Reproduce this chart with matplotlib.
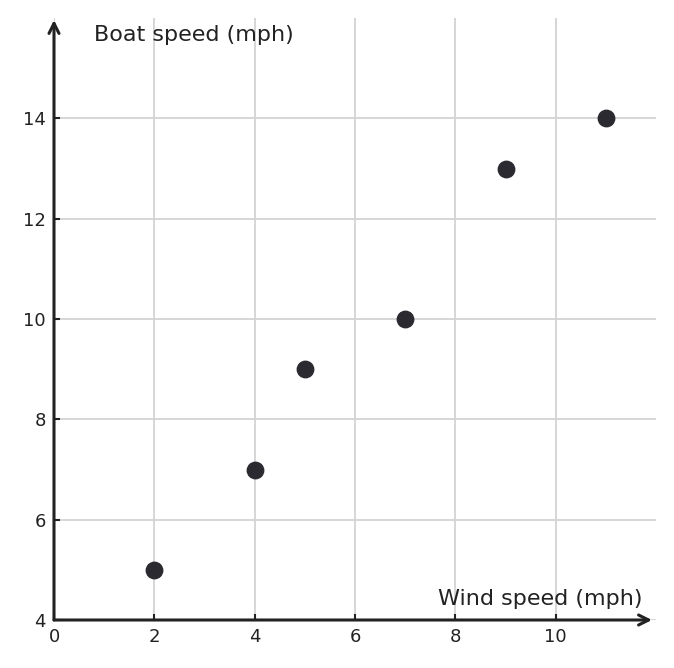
import matplotlib.pyplot as plt

# data
wind_speed = [2, 4, 5, 7, 9, 11]
boat_speed = [5, 7, 9, 10, 13, 14]
x_ticks = [0, 2, 4, 6, 8, 10]
y_ticks = [4, 6, 8, 10, 12, 14]

fig = plt.figure(figsize=(6.74, 6.68), dpi=100)
ax = fig.add_axes([54 / 674, 48 / 668, 602 / 674, 602 / 668])
ax.set_xlim(0, 12)
ax.set_ylim(4, 16)

ax.grid(True, color='#d3d3d3', linewidth=1.3)
ax.set_axisbelow(True)
for s in ax.spines.values():
    s.set_visible(False)

ax.set_xticks(x_ticks)
ax.set_yticks(y_ticks)
ax.tick_params(direction='in', length=4, width=1.5, colors='#222222',
               labelsize=13, labelcolor='#222222', pad=6)

# arrow axes
ax.annotate('', xy=(11.92, 4), xytext=(0, 4), xycoords='data',
            arrowprops=dict(arrowstyle='->', color='#222222', lw=2.2,
                            mutation_scale=18, shrinkA=0, shrinkB=0),
            annotation_clip=False)
ax.annotate('', xy=(0, 15.96), xytext=(0, 4), xycoords='data',
            arrowprops=dict(arrowstyle='->', color='#222222', lw=2.2,
                            mutation_scale=18, shrinkA=0, shrinkB=0),
            annotation_clip=False)

ax.scatter(wind_speed, boat_speed, s=140, color='#2a2a30', zorder=3)

ax.text(0.8, 15.67, 'Boat speed (mph)', fontsize=16, color='#222222',
        ha='left', va='center')
ax.text(11.74, 4.42, 'Wind speed (mph)', fontsize=16, color='#222222',
        ha='right', va='center')

fig.savefig('out.png', dpi=100)
